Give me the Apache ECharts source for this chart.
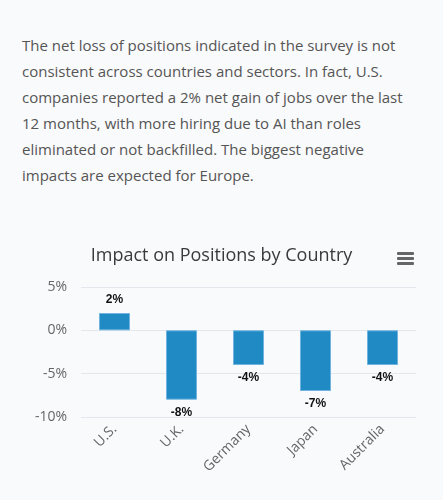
<!DOCTYPE html>
<html><head><meta charset="utf-8">
<script src="https://cdn.jsdelivr.net/npm/echarts@6/dist/echarts.min.js"></script>
<style>
body{margin:0;background:#f9fafb;width:443px;height:500px;overflow:hidden;font-family:"Open Sans",sans-serif}
p{margin:0;position:absolute;left:22px;top:32px;width:400px;font-size:15px;line-height:26px;color:#555}
#c{position:absolute;left:0;top:230px;width:443px;height:270px}
</style></head><body>
<p>The net loss of positions indicated in the survey is not consistent across countries and sectors. In fact, U.S. companies reported a 2% net gain of jobs over the last 12 months, with more hiring due to AI than roles eliminated or not backfilled. The biggest negative impacts are expected for Europe.</p>
<div id="c"></div>
<script>
const categories=["U.S.","U.K.","Germany","Japan","Australia"];
const values=[2,-8,-4,-7,-4];
const yTicks=[5,0,-5,-10];
const ch=echarts.init(document.getElementById('c'),null,{renderer:'canvas'});
ch.setOption({
 backgroundColor:'#f9fafb',
 title:{text:'Impact on Positions by Country',left:'center',top:12,textStyle:{fontFamily:'Open Sans',fontWeight:'normal',fontSize:18,color:'#3a3a3a'}},
 graphic:[{type:'group',left:397,top:22,children:[0,5,10].map(y=>({type:'rect',shape:{x:0,y:y,width:17,height:3,r:1},style:{fill:'#666'}}))}],
 grid:{left:81,right:27,top:57,bottom:83},
 xAxis:{type:'category',data:categories,axisTick:{show:false},axisLine:{show:false},
  axisLabel:{rotate:45,color:'#666',fontSize:14,fontFamily:'Open Sans',margin:10}},
 yAxis:{type:'value',min:-10,max:5,interval:5,axisLabel:{formatter:'{value}%',color:'#666',fontSize:14,fontFamily:'Open Sans',margin:14},
  splitLine:{lineStyle:{color:'#e4e8ee'}}},
 series:[{type:'bar',barWidth:31,itemStyle:{color:'#208ac5',borderColor:'#6fb3de',borderWidth:1},
  label:{show:true,formatter:'{c}%',fontSize:12,fontWeight:'bold',color:'#111',distance:7},
  data:values.map(v=>({value:v,label:{position:v<0?'bottom':'top'}}))}]
});
</script></body></html>
